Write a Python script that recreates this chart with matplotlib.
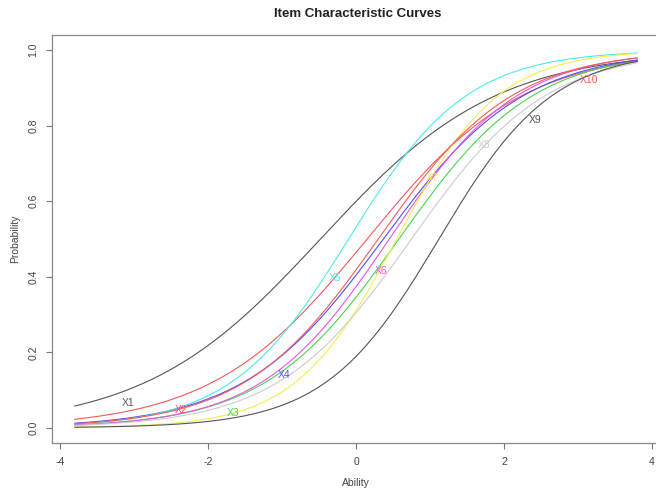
import matplotlib
matplotlib.use('Agg')
import matplotlib.pyplot as plt
import numpy as np

# item parameters (2PL): discrimination and difficulty
items = ['X1', 'X2', 'X3', 'X4', 'X5', 'X6', 'X7', 'X8', 'X9', 'X10']
disc = [0.84, 0.95, 1.10, 1.05, 1.25, 1.15, 1.45, 1.10, 1.30, 1.10]
diff = [-0.48, 0.15, 0.58, 0.37, -0.10, 0.45, 0.55, 0.75, 1.12, 0.30]
colors = ['#555555', '#F55A5A', '#4CD44C', '#5050F0', '#50EAEA',
          '#E855E8', '#F2F050', '#CCCCCC', '#555555', '#F55A5A']
label_x = [-3.08, -2.36, -1.66, -0.97, -0.28, 0.34, 1.03, 1.73, 2.42, 3.15]
label_y = [0.066, 0.048, 0.040, 0.140, 0.397, 0.415, 0.661, 0.749, 0.815, 0.921]
ability = np.linspace(-3.8, 3.8, 200)

plt.rcParams['font.family'] = ['Liberation Sans', 'DejaVu Sans']
plt.rcParams['axes.unicode_minus'] = False

fig = plt.figure(figsize=(6.56, 4.92), dpi=100)
ax = fig.add_axes([52.3 / 656, 49 / 492, 607.4 / 656, 408 / 492])

for a, b, c in zip(disc, diff, colors):
    p = 1 / (1 + np.exp(-a * (ability - b)))
    ax.plot(ability, p, color=c, lw=0.8)

for name, lx, ly, c in zip(items, label_x, label_y, colors):
    ax.text(lx, ly, name, color=c, fontsize=7.5, ha='center', va='center')

ax.set_xlim(-4.104, 4.104)
ax.set_ylim(-0.04, 1.04)
ax.set_xticks([-4, -2, 0, 2, 4])
ax.set_yticks([0.0, 0.2, 0.4, 0.6, 0.8, 1.0])
ax.set_yticklabels(['0.0', '0.2', '0.4', '0.6', '0.8', '1.0'], rotation=90, va='center')
ax.tick_params(direction='out', length=4, width=0.8, colors='#777777',
               labelcolor='#444444', labelsize=7.5, pad=6)
for s in ax.spines.values():
    s.set_color('#888888')
    s.set_linewidth(0.9)

ax.set_xlabel('Ability', fontsize=7.5, color='#444444', labelpad=8)
ax.set_ylabel('Probability', fontsize=7.5, color='#444444', labelpad=6)
fig.text(358 / 656, 1 - 14 / 492, 'Item Characteristic Curves', ha='center',
         va='center', fontsize=9.5, fontweight='bold', color='#222222')

fig.savefig('out.png', dpi=100)
